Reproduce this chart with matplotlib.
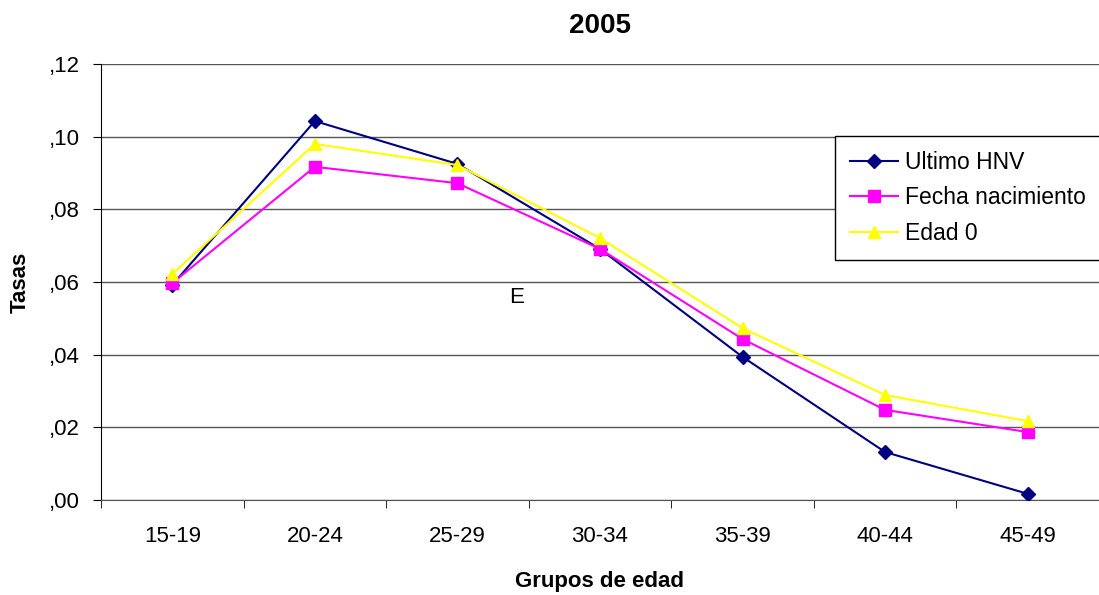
import numpy as np
import matplotlib.pyplot as plt

plt.rcParams['font.family'] = ['Liberation Sans', 'DejaVu Sans']

grupos = ['15-19', '20-24', '25-29', '30-34', '35-39', '40-44', '45-49']
ultimo_hnv = [0.0592, 0.1043, 0.0925, 0.0691, 0.0394, 0.0132, 0.0017]
fecha_nac = [0.0597, 0.0917, 0.0872, 0.0691, 0.0443, 0.0248, 0.0187]
edad_0 = [0.0622, 0.0980, 0.0922, 0.0721, 0.0473, 0.0289, 0.0217]
y_ticks = [0.0, 0.02, 0.04, 0.06, 0.08, 0.10, 0.12]
y_labels = [',00', ',02', ',04', ',06', ',08', ',10', ',12']


def main():
    fig = plt.figure(figsize=(10.99, 5.95), dpi=100)
    ax = fig.add_axes([0.0919, 0.1597, 0.908, 0.7327])

    x = np.arange(len(grupos))
    ax.plot(x, ultimo_hnv, color='#000080', marker='D', markersize=7, lw=1.5, label='Ultimo HNV', zorder=3)
    ax.plot(x, fecha_nac, color='#FF00FF', marker='s', markersize=8, lw=1.5, label='Fecha nacimiento', zorder=3)
    ax.plot(x, edad_0, color='#FFFF00', marker='^', markersize=9, lw=1.5, label='Edad 0', zorder=3)

    ax.set_xlim(-0.5, len(grupos) - 0.5)
    ax.set_ylim(0, 0.12)
    ax.set_yticks(y_ticks)
    ax.set_yticklabels(y_labels, fontsize=16)
    ax.set_xticks(x)
    ax.set_xticklabels(grupos, fontsize=16)
    ax.set_xticks(np.arange(-0.5, len(grupos)), minor=True)
    ax.tick_params(axis='x', which='major', length=0, pad=19)
    ax.tick_params(axis='x', which='minor', length=6, direction='out')
    ax.tick_params(axis='y', length=6, direction='out', pad=9)
    ax.grid(axis='y', color='#555555', lw=1)
    ax.set_axisbelow(True)
    for s in ['top', 'right']:
        ax.spines[s].set_visible(False)
    ax.spines['bottom'].set_color('#555555')

    ax.set_title('2005', fontsize=20, fontweight='bold', pad=22)
    ax.set_xlabel('Grupos de edad', fontsize=16, fontweight='bold', labelpad=17)
    ax.set_ylabel('Tasas', fontsize=16, fontweight='bold', labelpad=13)
    fig.text(0.47, 0.5, 'E', fontsize=16, ha='center', va='center')

    leg = ax.legend(loc='upper left', bbox_to_anchor=(0.7355, 0.835), fontsize=16.5,
                    fancybox=False, framealpha=1, edgecolor='black', handlelength=2.1,
                    labelspacing=0.55, borderpad=0.65, handletextpad=0.3,
                    borderaxespad=0)
    leg.get_frame().set_linewidth(1)

    fig.savefig('out.png', dpi=100)


if __name__ == "__main__":
    main()
